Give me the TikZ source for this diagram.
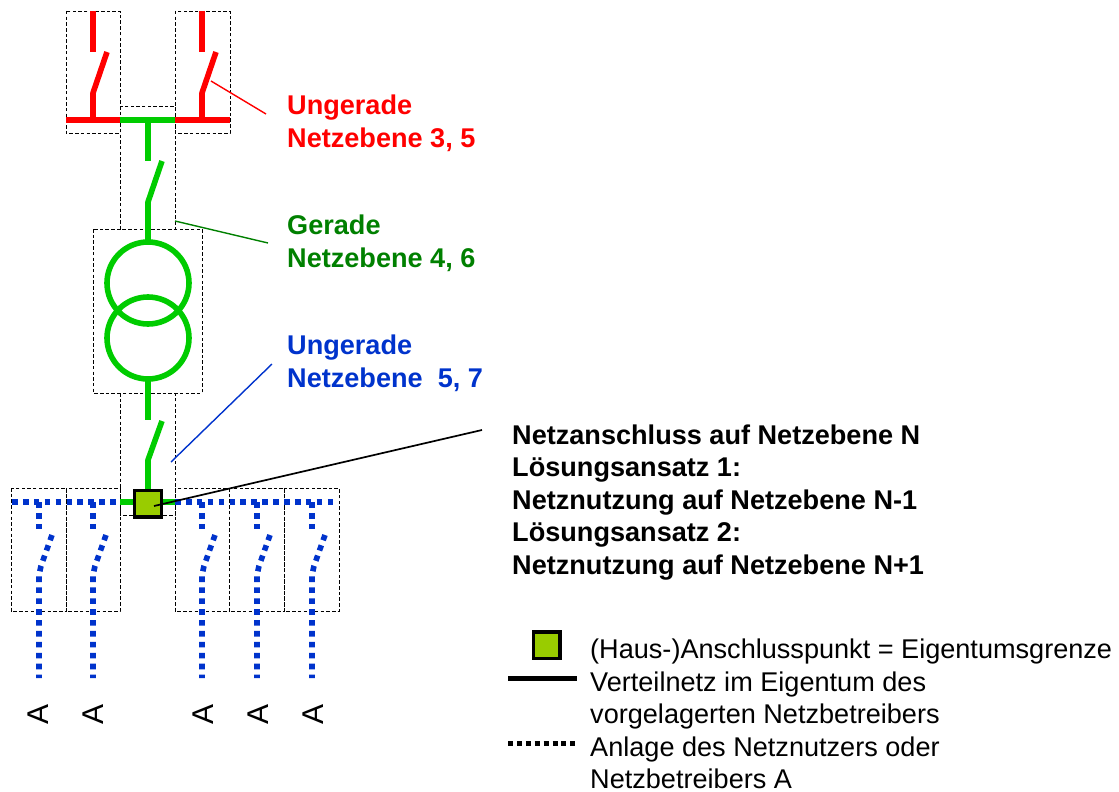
\documentclass[tikz,border=0pt]{standalone}
\usepackage{fontspec}
\setmainfont{Liberation Sans}
\definecolor{netred}{RGB}{255,0,0}
\definecolor{netgreen}{RGB}{0,204,0}
\definecolor{netdark}{RGB}{0,128,0}
\definecolor{netblue}{RGB}{0,51,204}
\definecolor{netsq}{RGB}{153,204,0}
\tikzset{
 zone/.style={draw=black,line width=0.8pt,dash pattern=on 3.5pt off 2.2pt},
 redl/.style={draw=netred,line width=5.6pt},
 greenl/.style={draw=netgreen,line width=5.6pt},
 bluel/.style={draw=netblue,line width=5.6pt,dash pattern=on 5.6pt off 5.3pt},
 lab/.style={anchor=base west,inner sep=0pt,font=\fontsize{27.1}{30}\selectfont},
 blab/.style={lab,font=\fontsize{27.1}{30}\selectfont\bfseries},
 leg/.style={lab,font=\fontsize{27.1}{30}\selectfont},
 apt/.style={draw=black,fill=netsq,line width=3.4pt,minimum size=26.6pt,inner sep=0pt},
}
\begin{document}
\begin{tikzpicture}[x=1pt,y=-1pt]
\useasboundingbox (0,0) rectangle (1119,792);
% dashed zones
\foreach \xa/\xb in {66/120,175/230} \draw[zone] (\xa,11) rectangle (\xb,133);
\draw[zone] (120,106) rectangle (175,229);
\draw[zone] (93,229) rectangle (202,393);
\draw[zone] (120,393) rectangle (175,515);
\foreach \xa/\xb in {11/66,66/120,175/229,229/284,284/339} \draw[zone] (\xa,488) rectangle (\xb,611);
% red switches
\foreach \x in {93,202}{
 \draw[redl] (\x,11) -- (\x,52);
 \draw[redl,line join=round] (\x+14,52) -- (\x,93) -- (\x,120);
}
\draw[redl] (66,120) -- (120,120);
\draw[redl] (175,120) -- (230,120);
% green part
\draw[greenl] (120,120) -- (175,120);
\draw[greenl] (148,120) -- (148,161);
\draw[greenl,line join=round] (162,161) -- (148,202) -- (148,241);
\coordinate (ct) at (148,283);
\coordinate (cb) at (148,338);
\draw[greenl] (ct) circle (41);
\draw[greenl] (cb) circle (41);
\draw[greenl] (148,379) -- (148,420);
\draw[greenl,line join=round] (162,421) -- (148,460) -- (148,502);
\draw[greenl] (120,502) -- (175,502);
% blue dotted
\draw[bluel] (12,502) -- (120,502);
\draw[bluel] (175,502) -- (337,502);
\foreach \x in {39,93,202,257,312}{
 \draw[bluel] (\x,502) -- (\x,531);
 \draw[bluel] (\x+13,535) -- (\x+2,566) -- (\x,575) -- (\x,678);
}
% connection point
\node[apt] (ap) at (148,503.5) {};
% labels
\node[blab,text=netred] (t1) at (287,114) {Ungerade};
\node[blab,text=netred] (t2) at (287,147) {Netzebene 3, 5};
\node[blab,text=netdark] (t3) at (287,234) {Gerade};
\node[blab,text=netdark] (t4) at (287,267) {Netzebene 4, 6};
\node[blab,text=netblue] (t5) at (287,354) {Ungerade};
\node[blab,text=netblue] (t6) at (287,387) {Netzebene\ \ 5, 7};
\node[blab] (b1) at (512,444) {Netzanschluss auf Netzebene N};
\node[blab] (b2) at (512,476) {Lösungsansatz 1:};
\node[blab] (b3) at (512,509) {Netznutzung auf Netzebene N-1};
\node[blab] (b4) at (512,541) {Lösungsansatz 2:};
\node[blab] (b5) at (512,574) {Netznutzung auf Netzebene N+1};
% leaders
\coordinate (r0) at (211,81); \coordinate (r1) at (266,114);
\coordinate (g0) at (175,221); \coordinate (g1) at (268,243);
\coordinate (u0) at (171,462); \coordinate (u1) at (272,364);
\coordinate (k0) at (154,506); \coordinate (k1) at (482,430);
\draw[netred,line width=1.4pt] (r0) -- (r1);
\draw[netdark,line width=1.4pt] (g0) -- (g1);
\draw[netblue,line width=1.4pt] (u0) -- (u1);
\draw[black,line width=1.7pt] (k0) -- (k1);
% A labels
\foreach \n/\x in {a/38,b/93,c/203,d/258,e/313}
 \node[rotate=90,inner sep=0pt,font=\fontsize{30}{32}\selectfont] (A\n) at (\x,714) {A};
% legend
\node[apt] (lsq) at (546.5,645.3) {};
\draw[black,line width=5pt] (508,678) coordinate (l0) -- (577,678) coordinate (l1);
\draw[black,line width=5pt,dash pattern=on 5pt off 3.9pt] (508,743) coordinate (l2) -- (577,743) coordinate (l3);
\node[leg] (l1t) at (590,658) {(Haus-)Anschlusspunkt = Eigentumsgrenze};
\node[leg] (l2t) at (590,691) {Verteilnetz im Eigentum des};
\node[leg] (l3t) at (590,723) {vorgelagerten Netzbetreibers};
\node[leg] (l4t) at (590,756) {Anlage des Netznutzers oder};
\node[leg] (l5t) at (590,788) {Netzbetreibers A};
\end{tikzpicture}
\end{document}
